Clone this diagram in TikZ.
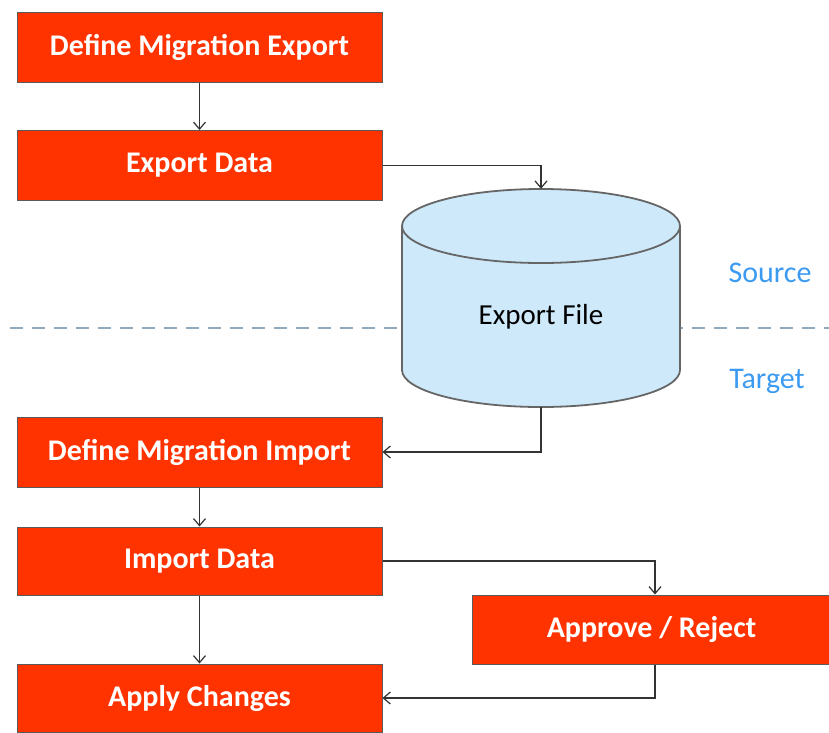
\documentclass[tikz,border=0pt]{standalone}
\usepackage{fontspec}
\setmainfont{Carlito}
\usetikzlibrary{arrows.meta}
\definecolor{boxred}{HTML}{FF3300}
\definecolor{boxedge}{HTML}{5A5A5A}
\definecolor{cylfill}{HTML}{CDE9FA}
\definecolor{cyledge}{HTML}{666666}
\definecolor{dashcol}{HTML}{8FA9BF}
\definecolor{labcol}{HTML}{3C9BF0}
\definecolor{linecol}{HTML}{333333}
\tikzset{
  x=1pt, y=-1pt,
  stepbox/.style={draw=boxedge, line width=1pt, fill=boxred, text=white,
    font=\fontsize{30}{34}\selectfont\bfseries, minimum width=365pt,
    minimum height=70pt, inner sep=0pt},
  conn/.style={draw=linecol, line width=1.2pt, -{Straight Barb[length=7pt,width=12pt,line width=1.2pt]}},
  sidelabel/.style={text=labcol, font=\fontsize{30}{34}\selectfont},
}
\begin{document}
\begin{tikzpicture}
\useasboundingbox (0,0) rectangle (829,732);
\fill[white] (0,0) rectangle (829,732);
% dashed divider
\coordinate (dl) at (10,328);
\coordinate (dr) at (829,328);
\draw[dashcol, line width=2pt, dash pattern=on 13pt off 9pt] (dl) -- (dr);
% boxes
\node[stepbox] (dme) at (199.5,47) {Define Migration Export};
\node[stepbox] (exd) at (199.5,165.5) {Export Data};
\node[stepbox] (dmi) at (199.5,452) {Define Migration Import};
\node[stepbox, minimum height=68pt] (imd) at (199.5,561) {Import Data};
\node[stepbox, minimum height=69pt, minimum width=359pt] (apr) at (651.5,629.5) {Approve / Reject};
\node[stepbox, minimum height=68pt] (apc) at (199.5,698) {Apply Changes};
% cylinder
\node[minimum width=278pt, minimum height=218pt, inner sep=0pt] (cyl) at (541,298) {};
\draw[cyledge, line width=1.8pt, fill=cylfill]
  (402,226) -- (402,370) arc[start angle=180, end angle=360, x radius=139, y radius=-37]
  -- (680,226) arc[start angle=0, end angle=180, x radius=139, y radius=-37] -- cycle;
\draw[cyledge, line width=1.8pt] (402,226) arc[start angle=180, end angle=360, x radius=139, y radius=-37];
\node[font=\fontsize{29}{33}\selectfont, text=black] (eff) at (541,317) {Export File};
% side labels
\node[sidelabel] (src) at (770,273) {Source};
\node[sidelabel] (tgt) at (767,381) {Target};
% connectors
\draw[conn] (dme.south) -- (exd.north);
\draw[conn] (exd.east) -| (cyl.north);
\draw[conn] (cyl.south) |- (dmi.east);
\draw[conn] (dmi.south) -- (imd.north);
\draw[conn] (imd.south) -- (apc.north);
\draw[conn] (imd.east) -| ([xshift=3.5pt]apr.north);
\draw[conn] ([xshift=3.5pt]apr.south) |- (apc.east);
\end{tikzpicture}
\end{document}
